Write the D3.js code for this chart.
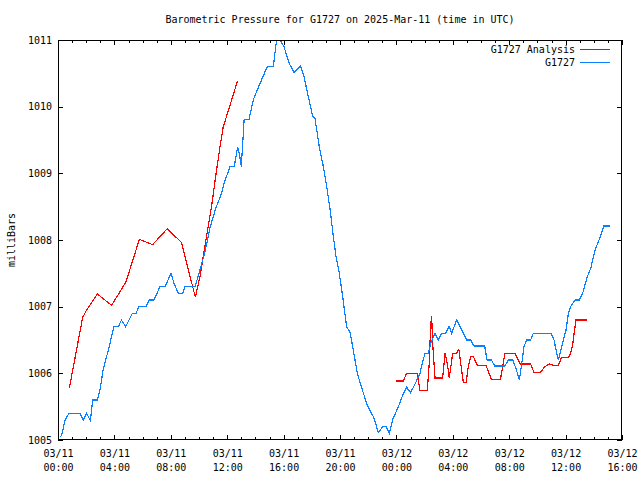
<!DOCTYPE html>
<html><head><meta charset="utf-8">
<script src="https://cdn.jsdelivr.net/npm/d3@7"></script>
<style>
body{margin:0;background:#fff;}
svg text{font-family:"DejaVu Sans Mono","Liberation Mono",monospace;font-size:10px;fill:#000;}
</style></head>
<body><svg id="c" width="640" height="480"></svg>
<script>
// Hours since 2025-03-11 00:00 UTC
const startTime = new Date(Date.UTC(2025,2,11,0,0));
const xTickHours = [0,4,8,12,16,20,24,28,32,36,40];
const yTicks = [1005,1006,1007,1008,1009,1010,1011];

const obsHours = [0.2,0.3,0.5,0.78,1.56,1.8,2.03,2.3,2.46,2.79,2.98,3.2,3.57,3.97,4.28,4.5,4.8,5.27,5.53,5.74,6.24,6.48,6.81,7.23,7.59,8.01,8.23,8.53,8.84,9.0,9.72,10.0,10.4,10.8,11.18,11.6,11.77,12.2,12.5,12.74,12.86,13.0,13.1,13.2,13.55,13.85,14.13,14.84,15.27,15.5,15.74,16.03,16.17,16.4,16.74,17.2,17.45,17.75,18.06,18.22,18.35,18.53,18.82,19.06,19.3,19.53,19.72,19.95,20.19,20.47,20.71,20.94,21.23,21.54,21.94,22.41,22.72,23.03,23.26,23.5,23.74,24.14,24.5,24.73,25.0,25.3,25.67,25.9,26.03,26.27,26.43,26.74,26.97,27.21,27.5,27.73,27.92,28.27,28.63,28.98,29.27,29.5,30.26,30.43,30.74,30.97,31.7,31.94,32.25,32.48,32.72,32.89,33.05,33.24,33.52,33.71,34.96,35.18,35.32,35.49,35.6,35.84,36.03,36.2,36.36,36.67,36.97,37.21,37.54,37.78,38.09,38.39,38.72,39.15];
const obsPressure = [1005.05,1005.11,1005.3,1005.4,1005.4,1005.3,1005.4,1005.29,1005.6,1005.6,1005.75,1006.05,1006.35,1006.7,1006.7,1006.8,1006.7,1006.9,1006.9,1007.0,1007.0,1007.1,1007.1,1007.3,1007.3,1007.5,1007.35,1007.2,1007.2,1007.3,1007.3,1007.5,1007.8,1008.2,1008.47,1008.7,1008.85,1009.1,1009.1,1009.4,1009.3,1009.1,1009.45,1009.81,1009.81,1010.1,1010.25,1010.6,1010.6,1011.0,1011.0,1010.9,1010.8,1010.65,1010.51,1010.61,1010.45,1010.15,1009.86,1009.83,1009.65,1009.4,1009.1,1008.8,1008.45,1008.05,1007.75,1007.5,1007.15,1006.7,1006.62,1006.35,1006.0,1005.78,1005.52,1005.33,1005.11,1005.2,1005.2,1005.1,1005.31,1005.5,1005.7,1005.79,1005.71,1005.83,1006.0,1006.2,1006.3,1006.3,1006.45,1006.6,1006.5,1006.6,1006.6,1006.71,1006.6,1006.8,1006.65,1006.5,1006.5,1006.41,1006.41,1006.2,1006.2,1006.11,1006.11,1006.2,1006.2,1006.075,1005.9,1006.15,1006.4,1006.5,1006.5,1006.6,1006.6,1006.5,1006.35,1006.2,1006.3,1006.5,1006.65,1006.9,1007.0,1007.1,1007.1,1007.2,1007.45,1007.575,1007.85,1008.01,1008.21,1008.21];

const anaHours = [0.8,1.75,2.03,2.79,3.8,4.82,5.77,6.71,7.75,8.77,9.74,10.07,10.92,11.18,11.49,11.72,11.96,12.74,18,23.97,24.49,24.73,25.48,25.67,26.19,26.33,26.43,26.5,26.57,26.74,27.28,27.45,27.61,27.75,27.99,28.27,28.43,28.56,28.75,28.94,29.1,29.27,29.46,29.74,30.35,30.74,31.38,31.7,32.41,32.77,33.52,33.76,34.18,34.54,34.84,35.13,35.48,35.72,36.2,36.36,36.5,36.6,36.74,37.5];
const anaPressure = [1005.775,1006.84,1006.95,1007.19,1007.02,1007.37,1008.01,1007.93,1008.17,1007.96,1007.14,1007.45,1008.55,1008.95,1009.4,1009.7,1009.86,1010.39,null,1005.885,1005.885,1006.0,1006.0,1005.74,1005.74,1006.15,1006.725,1006.86,1006.45,1005.93,1005.93,1006.3,1006.15,1005.93,1006.3,1006.3,1006.36,1006.15,1005.86,1005.86,1006.1,1006.25,1006.25,1006.12,1006.12,1005.91,1005.91,1006.3,1006.3,1006.14,1006.14,1006.01,1006.01,1006.1,1006.14,1006.12,1006.12,1006.24,1006.24,1006.3,1006.43,1006.6,1006.8,1006.8];

const seriesNames = ["G1727 Analysis","G1727"];
const seriesColors = ["#ff0000","#0a80ff"];

const L=58,R=622,T=40,B=440;
const svg=d3.select("#c");
const x=d3.scaleLinear().domain([0,40]).range([L,R]);
const y=d3.scaleLinear().domain([1005,1011]).range([B,T]);

svg.append("defs").append("clipPath").attr("id","clip")
  .append("rect").attr("x",L).attr("y",T).attr("width",R-L).attr("height",B-T);

const fmtD=d3.utcFormat("%m/%d"), fmtT=d3.utcFormat("%H:%M");
const toDate=h=>new Date(startTime.getTime()+h*3600000);
const minorHours=d3.range(0,41,1).filter(h=>h%4!==0);

function styleAxis(g){g.select(".domain").remove();g.selectAll("line").attr("stroke","#000").attr("shape-rendering","crispEdges");}

// bottom axis
const gb=svg.append("g").attr("transform",`translate(0,${B})`)
  .call(d3.axisBottom(x).tickValues(xTickHours).tickSizeInner(-5).tickSizeOuter(0).tickPadding(0).tickFormat(""));
styleAxis(gb);
gb.selectAll(".tick text").each(function(h){
  const t=d3.select(this).attr("y",null).attr("dy",null);
  t.append("tspan").attr("x",0).attr("y",17).text(fmtD(toDate(h)));
  t.append("tspan").attr("x",0).attr("y",31).text(fmtT(toDate(h)));
});
const gbm=svg.append("g").attr("transform",`translate(0,${B})`)
  .call(d3.axisBottom(x).tickValues(minorHours).tickSizeInner(-3).tickSizeOuter(0).tickFormat(""));
styleAxis(gbm);
// top axis
const gt=svg.append("g").attr("transform",`translate(0,${T})`)
  .call(d3.axisTop(x).tickValues(xTickHours).tickSizeInner(-5).tickSizeOuter(0).tickFormat(""));
styleAxis(gt);
const gtm=svg.append("g").attr("transform",`translate(0,${T})`)
  .call(d3.axisTop(x).tickValues(minorHours).tickSizeInner(-3).tickSizeOuter(0).tickFormat(""));
styleAxis(gtm);
// left axis
const gl=svg.append("g").attr("transform",`translate(${L},0)`)
  .call(d3.axisLeft(y).tickValues(yTicks).tickSizeInner(-5).tickSizeOuter(0).tickPadding(6).tickFormat(d3.format("d")));
styleAxis(gl);
// right axis
const gr=svg.append("g").attr("transform",`translate(${R},0)`)
  .call(d3.axisRight(y).tickValues(yTicks).tickSizeInner(-5).tickSizeOuter(0).tickFormat(""));
styleAxis(gr);

// lines
const line=d3.line().defined(d=>d[1]!=null).x(d=>x(d[0])).y(d=>y(d[1]));
const anaData=anaHours.map((h,i)=>[h,anaPressure[i]]);
const obsData=obsHours.map((h,i)=>[h,obsPressure[i]]);
const gp=svg.append("g").attr("clip-path","url(#clip)");
gp.append("path").datum(anaData).attr("d",line).attr("fill","none").attr("stroke",seriesColors[0]).attr("stroke-width",1.2).attr("shape-rendering","crispEdges");
gp.append("path").datum(obsData).attr("d",line).attr("fill","none").attr("stroke",seriesColors[1]).attr("stroke-width",1.2).attr("shape-rendering","crispEdges");

// frame
svg.append("rect").attr("x",L+0.5).attr("y",T+0.5).attr("width",R-L-1).attr("height",B-T-1)
  .attr("fill","none").attr("stroke","#000").attr("shape-rendering","crispEdges");

// title
svg.append("text").attr("x",(L+R)/2).attr("y",19).attr("text-anchor","middle").attr("dominant-baseline","central")
  .text("Barometric Pressure for G1727 on 2025-Mar-11 (time in UTC)");
// y label
svg.append("text").attr("transform","translate(11.5,240) rotate(-90)").attr("text-anchor","middle").attr("dominant-baseline","central").text("milliBars");

// legend
seriesNames.forEach((n,i)=>{
  const yy=49+i*13;
  svg.append("text").attr("x",575).attr("y",yy).attr("text-anchor","end").attr("dominant-baseline","central").text(n);
  svg.append("line").attr("x1",580).attr("x2",610).attr("y1",yy+0.5).attr("y2",yy+0.5).attr("stroke",seriesColors[i]).attr("stroke-width",1).attr("shape-rendering","crispEdges");
});
</script></body></html>
